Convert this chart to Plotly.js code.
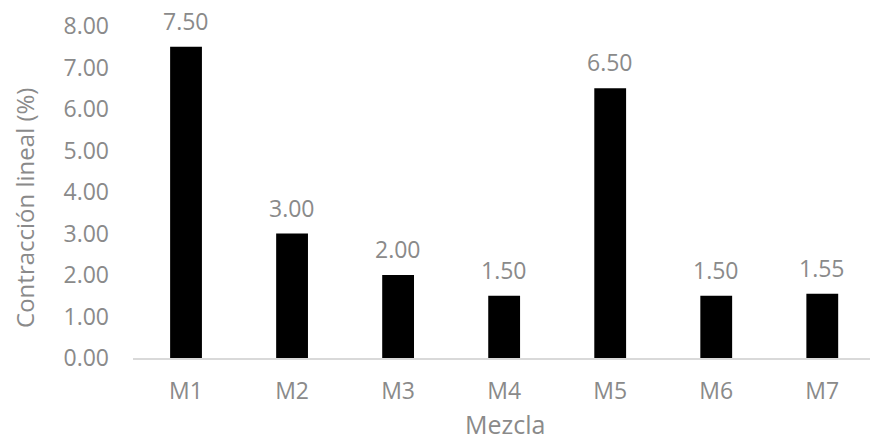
<!DOCTYPE html>
<html>
<head>
<meta charset="utf-8">
<script src="https://cdn.plot.ly/plotly-3.0.1.min.js"></script>
<style>html,body{margin:0;padding:0;background:#fff;}#chart{width:871px;height:441px;}</style>
</head>
<body>
<div id="chart"></div>
<script>
const categories = ['M1','M2','M3','M4','M5','M6','M7'];
const values = [7.50, 3.00, 2.00, 1.50, 6.50, 1.50, 1.55];
const valueLabels = ['7.50','3.00','2.00','1.50','6.50','1.50','1.55'];
const yTicks = [0,1,2,3,4,5,6,7,8];
const yTickLabels = ['0.00','1.00','2.00','3.00','4.00','5.00','6.00','7.00','8.00'];
const xTitle = 'Mezcla';
const yTitle = 'Contracción lineal (%)';

const fontFam = '"Open Sans", sans-serif';
const grey = '#8a8a8a';

const trace = {
  type: 'bar',
  x: categories,
  y: values,
  marker: {color: '#000000', line: {width: 0}},
  hoverinfo: 'none'
};

const annotations = categories.map((c, i) => ({
  x: c, y: values[i], xref: 'x', yref: 'y',
  text: valueLabels[i], showarrow: false,
  yanchor: 'middle', yshift: 26,
  font: {family: fontFam, size: 23, color: grey}
}));
annotations.push({
  xref: 'paper', yref: 'paper', x: 0.5, y: -0.198, xshift: 3,
  text: xTitle, showarrow: false, xanchor: 'center', yanchor: 'middle',
  font: {family: fontFam, size: 25, color: grey}
});
annotations.push({
  xref: 'paper', yref: 'paper', x: 0, y: 0.452, xshift: -108,
  text: yTitle, showarrow: false, textangle: -90, xanchor: 'center', yanchor: 'middle',
  font: {family: fontFam, size: 24, color: grey}
});

const layout = {
  width: 871, height: 441,
  margin: {l: 133, r: 1, t: 26, b: 83},
  paper_bgcolor: '#ffffff', plot_bgcolor: '#ffffff',
  bargap: 0.7,
  showlegend: false,
  xaxis: {
    type: 'category',
    range: [-0.5, 6.45],
    showline: true, linecolor: '#d9d9d9', linewidth: 2,
    ticks: '', showgrid: false, zeroline: false,
    ticklabelstandoff: 11,
    tickfont: {family: fontFam, size: 23, color: grey}
  },
  yaxis: {
    range: [0, 8], tickvals: yTicks, ticktext: yTickLabels,
    showline: false, showgrid: false, zeroline: false, ticks: '',
    ticklabelstandoff: 23,
    tickfont: {family: fontFam, size: 23, color: grey}
  },
  annotations: annotations
};

Plotly.newPlot('chart', [trace], layout, {staticPlot: true, displayModeBar: false});
</script>
</body>
</html>
